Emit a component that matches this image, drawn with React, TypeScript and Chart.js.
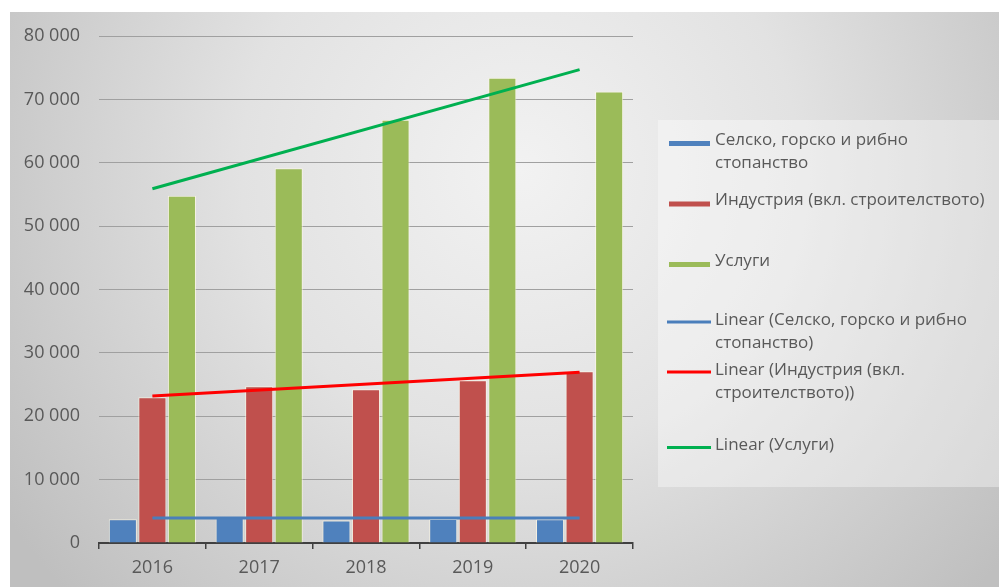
import React, { useEffect, useRef } from "react";
import { Chart, registerables } from "chart.js";

Chart.register(...registerables);

const years = ["2016", "2017", "2018", "2019", "2020"];
const agriculture = [3750, 4000, 3550, 3800, 3750];
const industry = [23000, 24750, 24250, 25700, 27100];
const services = [54800, 59150, 66800, 73400, 71250];
const agricultureTrend = [3950, null, null, null, 3950];
const industryTrend = [23200, null, null, null, 26950];
const servicesTrend = [55900, null, null, null, 74700];
const yTicks = [0, 10000, 20000, 30000, 40000, 50000, 60000, 70000, 80000];

const seriesNames = [
  "Селско, горско и рибно стопанство",
  "Индустрия (вкл. строителството)",
  "Услуги",
];
const legendLines = [
  ["Селско, горско и рибно", "стопанство"],
  ["Индустрия (вкл. строителството)"],
  ["Услуги"],
  ["Linear (Селско, горско и рибно", "стопанство)"],
  ["Linear (Индустрия (вкл.", "строителството))"],
  ["Linear (Услуги)"],
];

const BLUE = "#4F81BD";
const RED = "#C0504D";
const GREEN = "#9BBB59";
const TREND_BLUE = "#4A7EBB";
const TREND_RED = "#FF0000";
const TREND_GREEN = "#00B050";
const TEXT = "#595959";
const FONT = "'Open Sans', 'Noto Sans', sans-serif";

const fmt = (v: number) => String(v).replace(/\B(?=(\d{3})+(?!\d))/g, " ");

const backgroundPlugin = {
  id: "bg",
  beforeDraw(chart: any) {
    const ctx = chart.ctx;
    const w = chart.width;
    const h = chart.height;
    ctx.save();
    ctx.fillStyle = "#ffffff";
    ctx.fillRect(0, 0, w, h);
    const g = ctx.createRadialGradient(520, 170, 0, 520, 170, 620);
    g.addColorStop(0, "#f2f2f2");
    g.addColorStop(0.45, "#e2e2e2");
    g.addColorStop(1, "#bfbfbf");
    ctx.fillStyle = g;
    ctx.fillRect(10, 12, w - 10, h - 12);
    ctx.restore();
  },
};

const legendPlugin = {
  id: "customLegend",
  afterDraw(chart: any) {
    const ctx = chart.ctx;
    ctx.save();
    ctx.fillStyle = "rgba(255,255,255,0.36)";
    ctx.fillRect(658, 120, 341, 367);
    const centers = [140, 200.5, 261, 320, 370, 445.5];
    const colors = [BLUE, RED, GREEN, TREND_BLUE, TREND_RED, TREND_GREEN];
    ctx.font = `17px ${FONT}`;
    ctx.textBaseline = "middle";
    ctx.textAlign = "left";
    legendLines.forEach((lines, i) => {
      const y = centers[i];
      if (i < 3) {
        ctx.fillStyle = colors[i];
        ctx.fillRect(669, y + 1, 41, 5);
      } else {
        ctx.strokeStyle = colors[i];
        ctx.lineWidth = 3;
        ctx.beginPath();
        ctx.moveTo(667, y + 2);
        ctx.lineTo(711, y + 2);
        ctx.stroke();
      }
      ctx.fillStyle = TEXT;
      lines.forEach((t, j) => ctx.fillText(t, 715, y + j * 23));
    });
    ctx.restore();
  },
};

export default function App() {
  const ref = useRef<HTMLCanvasElement | null>(null);
  useEffect(() => {
    if (!ref.current) return;
    const barCommon = {
      type: "bar" as const,
      borderColor: "rgba(255,250,230,0.7)",
      borderWidth: 1,
      categoryPercentage: 0.83,
      barPercentage: 0.95,
      order: 2,
    };
    const lineCommon = {
      type: "line" as const,
      borderWidth: 3,
      pointRadius: 0,
      spanGaps: true,
      fill: false,
      order: 1,
    };
    const chart = new Chart(ref.current, {
      type: "bar",
      data: {
        labels: years,
        datasets: [
          { ...barCommon, label: seriesNames[0], data: agriculture, backgroundColor: BLUE },
          { ...barCommon, label: seriesNames[1], data: industry, backgroundColor: RED },
          { ...barCommon, label: seriesNames[2], data: services, backgroundColor: GREEN },
          { ...lineCommon, label: "Linear (" + seriesNames[0] + ")", data: agricultureTrend, borderColor: TREND_BLUE },
          { ...lineCommon, label: "Linear (" + seriesNames[1] + ")", data: industryTrend, borderColor: TREND_RED },
          { ...lineCommon, label: "Linear (" + seriesNames[2] + ")", data: servicesTrend, borderColor: TREND_GREEN },
        ] as any,
      },
      options: {
        animation: false,
        responsive: false,
        layout: { padding: { left: 0, right: 366, top: 36, bottom: 0 } },
        plugins: { legend: { display: false }, tooltip: { enabled: false } },
        scales: {
          x: {
            type: "category",
            offset: true,
            afterFit: (s: any) => {
              s.height = 44;
            },
            grid: {
              offset: true,
              drawOnChartArea: false,
              drawTicks: true,
              tickLength: 6,
              color: "#404040",
              lineWidth: 1.5,
            },
            border: { display: true, color: "#404040", width: 2 },
            ticks: { color: TEXT, font: { family: FONT, size: 18 }, padding: 8 },
          },
          y: {
            min: 0,
            max: 80000,
            afterFit: (s: any) => {
              s.width = 99;
            },
            afterBuildTicks: (s: any) => {
              s.ticks = yTicks.map((v) => ({ value: v }));
            },
            grid: { color: "#a0a0a0", lineWidth: 1, drawTicks: false },
            border: { display: false },
            ticks: {
              color: TEXT,
              font: { family: FONT, size: 18 },
              padding: 19,
              callback: (v: any) => fmt(Number(v)),
            },
          },
        },
      },
      plugins: [backgroundPlugin, legendPlugin],
    });
    return () => chart.destroy();
  }, []);
  return (
    <div style={{ position: "fixed", left: 0, top: 0, width: 999, height: 587 }}>
      <canvas ref={ref} width={999} height={587} />
    </div>
  );
}
